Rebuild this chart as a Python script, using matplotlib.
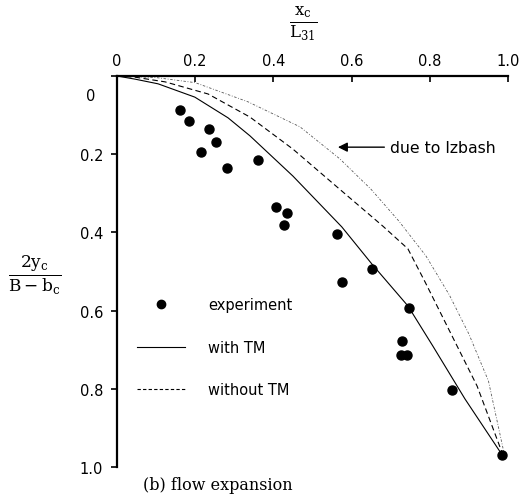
import matplotlib
matplotlib.use('Agg')
import matplotlib.pyplot as plt
import matplotlib.transforms as mtransforms
from matplotlib.lines import Line2D

plt.rcParams['mathtext.fontset'] = 'dejavuserif'
plt.rcParams['font.family'] = 'DejaVu Sans'

# experiment points (x_c/L31, 2y_c/(B-b_c))
exp_x = [0.161, 0.184, 0.235, 0.253, 0.215, 0.281, 0.361, 0.407, 0.434, 0.427,
         0.563, 0.652, 0.575, 0.747, 0.729, 0.726, 0.741, 0.857, 0.985]
exp_y = [0.087, 0.115, 0.136, 0.169, 0.195, 0.235, 0.215, 0.335, 0.350, 0.381,
         0.404, 0.494, 0.527, 0.593, 0.677, 0.713, 0.713, 0.802, 0.969]

# computed, with TM
tm_x = [0.0, 0.046, 0.105, 0.199, 0.284, 0.340, 0.450, 0.575, 0.652, 0.744, 0.808, 0.890, 0.985]
tm_y = [0.0, 0.008, 0.020, 0.054, 0.107, 0.153, 0.256, 0.386, 0.481, 0.588, 0.691, 0.826, 0.969]

# computed, without TM
notm_x = [0.0, 0.046, 0.123, 0.233, 0.340, 0.450, 0.563, 0.680, 0.744, 0.788, 0.844, 0.921, 0.987]
notm_y = [0.0, 0.003, 0.015, 0.046, 0.105, 0.187, 0.284, 0.384, 0.442, 0.527, 0.639, 0.793, 0.969]

# due to Izbash
izb_x = [0.0, 0.100, 0.200, 0.335, 0.468, 0.570, 0.650, 0.720, 0.790, 0.850, 0.900, 0.950, 0.990]
izb_y = [0.0, 0.004, 0.017, 0.066, 0.130, 0.212, 0.290, 0.370, 0.460, 0.560, 0.660, 0.780, 0.965]

x_ticks = [0, 0.2, 0.4, 0.6, 0.8, 1.0]
x_ticklabels = ['0', '0.2', '0.4', '0.6', '0.8', '1.0']
y_ticks = [0, 0.2, 0.4, 0.6, 0.8, 1.0]
y_ticklabels = ['0', '0.2', '0.4', '0.6', '0.8', '1.0']

fig = plt.figure(figsize=(5.22, 5.02), dpi=100)
ax = fig.add_axes([117 / 522, 1 - 468 / 502, 391 / 522, 391 / 502])

ax.plot(izb_x, izb_y, color='0.35', lw=0.6, linestyle=(0, (3, 2, 1, 2)))
ax.plot(notm_x, notm_y, color='black', lw=0.8, linestyle=(0, (5, 3)))
ax.plot(tm_x, tm_y, color='black', lw=0.8)
ax.plot(exp_x, exp_y, 'o', color='black', markersize=6.5, linestyle='none')

ax.set_xlim(0, 1.0)
ax.set_ylim(1.0, 0)
ax.xaxis.tick_top()
ax.set_xticks(x_ticks)
ax.set_xticklabels(x_ticklabels)
ax.set_yticks(y_ticks)
ax.set_yticklabels(y_ticklabels)
ax.tick_params(axis='x', direction='in', length=4, width=1.2, labelsize=10.5, pad=6)
ax.tick_params(axis='y', direction='out', length=4, width=1.2, labelsize=10.5, pad=6)
for s in ['right', 'bottom']:
    ax.spines[s].set_visible(False)
for s in ['top', 'left']:
    ax.spines[s].set_linewidth(1.6)

# the "0" on the y axis sits lower and further left in the original
lbl0 = ax.get_yticklabels()[0]
lbl0.set_transform(lbl0.get_transform() + mtransforms.ScaledTranslation(-8 / 100, -18 / 100, fig.dpi_scale_trans))

ax.annotate('due to Izbash', xy=(0.565, 0.182), xytext=(0.698, 0.182),
            fontsize=11.3, va='center', ha='left',
            arrowprops=dict(arrowstyle='-|>', color='black', lw=1.0,
                            mutation_scale=14, shrinkA=2, shrinkB=0))

handles = [Line2D([], [], marker='o', color='black', linestyle='none', markersize=6),
           Line2D([], [], color='black', lw=0.8),
           Line2D([], [], color='black', lw=0.8, linestyle=(0, (3, 2)))]
labels = ['experiment', 'with TM', 'without TM']
ax.legend(handles, labels, loc='upper left', bbox_to_anchor=(0.051, 0.435),
          frameon=False, fontsize=10.5, handlelength=3.3, handletextpad=1.6,
          labelspacing=1.9, borderpad=0, borderaxespad=0)

fig.text(303 / 522, 1 - 24 / 502, r'$\frac{\mathrm{x_c}}{\mathrm{L_{31}}}$',
         ha='center', va='center', fontsize=17)
fig.text(35 / 522, 1 - 275 / 502, r'$\frac{\mathrm{2y_c}}{\mathrm{B-b_c}}$',
         ha='center', va='center', fontsize=17.5)
fig.text(143 / 522, 1 - 486 / 502, '(b) flow expansion', family='DejaVu Serif',
         ha='left', va='center', fontsize=11.5)

fig.savefig('out.png', dpi=100)
